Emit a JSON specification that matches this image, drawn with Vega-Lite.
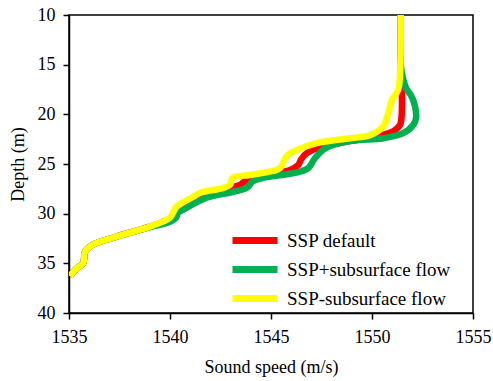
{
  "$schema": "https://vega.github.io/schema/vega-lite/v6.json",
  "width": 404,
  "height": 298,
  "autosize": {"type": "none"},
  "padding": {"left": 69, "top": 15, "right": 20, "bottom": 68},
  "background": "white",
  "config": {
    "font": "Liberation Serif",
    "view": {"stroke": "black", "strokeWidth": 1.5},
    "axis": {
      "domainColor": "black", "domainWidth": 1.5, "tickColor": "black", "tickWidth": 1.5,
      "tickSize": 6, "labelColor": "black", "titleColor": "black",
      "labelFont": "Liberation Serif", "titleFont": "Liberation Serif",
      "labelFontSize": 18, "titleFontSize": 18, "titleFontWeight": "normal", "grid": false,
      "labelFlush": false, "labelOverlap": false
    },
    "legend": {"labelFont": "Liberation Serif"}
  },
  "data": {"values": [
    {"s": "SSP default", "d": 10, "v": 1551.42},
    {"s": "SSP default", "d": 13, "v": 1551.42},
    {"s": "SSP default", "d": 15.5, "v": 1551.43},
    {"s": "SSP default", "d": 16.8, "v": 1551.46},
    {"s": "SSP default", "d": 18, "v": 1551.48},
    {"s": "SSP default", "d": 20, "v": 1551.47},
    {"s": "SSP default", "d": 21.05, "v": 1551.39},
    {"s": "SSP default", "d": 21.7, "v": 1551.05},
    {"s": "SSP default", "d": 22.2, "v": 1550.2},
    {"s": "SSP default", "d": 22.7, "v": 1548.9},
    {"s": "SSP default", "d": 23.2, "v": 1547.6},
    {"s": "SSP default", "d": 23.9, "v": 1546.77},
    {"s": "SSP default", "d": 24.5, "v": 1546.5},
    {"s": "SSP default", "d": 25.1, "v": 1546.35},
    {"s": "SSP default", "d": 25.6, "v": 1545.94},
    {"s": "SSP default", "d": 26.1, "v": 1544.6},
    {"s": "SSP default", "d": 26.6, "v": 1543.8},
    {"s": "SSP default", "d": 27.1, "v": 1543.47},
    {"s": "SSP default", "d": 27.4, "v": 1542.97},
    {"s": "SSP default", "d": 28.1, "v": 1541.65},
    {"s": "SSP default", "d": 29.3, "v": 1540.5},
    {"s": "SSP default", "d": 29.8, "v": 1540.25},
    {"s": "SSP default", "d": 30.4, "v": 1540.05},
    {"s": "SSP default", "d": 31.3, "v": 1539.0},
    {"s": "SSP default", "d": 32.3, "v": 1537.36},
    {"s": "SSP default", "d": 33.1, "v": 1536.2},
    {"s": "SSP default", "d": 33.8, "v": 1535.8},
    {"s": "SSP default", "d": 35.0, "v": 1535.7},
    {"s": "SSP default", "d": 35.5, "v": 1535.38},
    {"s": "SSP default", "d": 36.3, "v": 1535.05},
    {"s": "SSP+subsurface flow", "d": 10, "v": 1551.42},
    {"s": "SSP+subsurface flow", "d": 13, "v": 1551.42},
    {"s": "SSP+subsurface flow", "d": 15.2, "v": 1551.43},
    {"s": "SSP+subsurface flow", "d": 16.5, "v": 1551.55},
    {"s": "SSP+subsurface flow", "d": 17.4, "v": 1551.7},
    {"s": "SSP+subsurface flow", "d": 18.2, "v": 1551.96},
    {"s": "SSP+subsurface flow", "d": 19.2, "v": 1552.13},
    {"s": "SSP+subsurface flow", "d": 20.4, "v": 1552.18},
    {"s": "SSP+subsurface flow", "d": 21.05, "v": 1552.05},
    {"s": "SSP+subsurface flow", "d": 21.9, "v": 1551.55},
    {"s": "SSP+subsurface flow", "d": 22.4, "v": 1550.56},
    {"s": "SSP+subsurface flow", "d": 22.7, "v": 1548.9},
    {"s": "SSP+subsurface flow", "d": 23.4, "v": 1547.7},
    {"s": "SSP+subsurface flow", "d": 24.4, "v": 1547.18},
    {"s": "SSP+subsurface flow", "d": 25.4, "v": 1546.85},
    {"s": "SSP+subsurface flow", "d": 25.8, "v": 1546.4},
    {"s": "SSP+subsurface flow", "d": 26.4, "v": 1544.6},
    {"s": "SSP+subsurface flow", "d": 26.75, "v": 1544.1},
    {"s": "SSP+subsurface flow", "d": 27.4, "v": 1543.8},
    {"s": "SSP+subsurface flow", "d": 27.8, "v": 1543.13},
    {"s": "SSP+subsurface flow", "d": 28.4, "v": 1541.8},
    {"s": "SSP+subsurface flow", "d": 29.6, "v": 1540.66},
    {"s": "SSP+subsurface flow", "d": 29.9, "v": 1540.4},
    {"s": "SSP+subsurface flow", "d": 30.4, "v": 1540.3},
    {"s": "SSP+subsurface flow", "d": 30.9, "v": 1539.9},
    {"s": "SSP+subsurface flow", "d": 31.3, "v": 1539.1},
    {"s": "SSP+subsurface flow", "d": 32.3, "v": 1537.4},
    {"s": "SSP+subsurface flow", "d": 33.1, "v": 1536.2},
    {"s": "SSP+subsurface flow", "d": 33.8, "v": 1535.8},
    {"s": "SSP+subsurface flow", "d": 35.0, "v": 1535.7},
    {"s": "SSP+subsurface flow", "d": 35.5, "v": 1535.38},
    {"s": "SSP+subsurface flow", "d": 36.3, "v": 1535.05},
    {"s": "SSP-subsurface flow", "d": 10, "v": 1551.42},
    {"s": "SSP-subsurface flow", "d": 13, "v": 1551.42},
    {"s": "SSP-subsurface flow", "d": 15.2, "v": 1551.4},
    {"s": "SSP-subsurface flow", "d": 17.5, "v": 1551.3},
    {"s": "SSP-subsurface flow", "d": 18.5, "v": 1551.0},
    {"s": "SSP-subsurface flow", "d": 19.9, "v": 1550.8},
    {"s": "SSP-subsurface flow", "d": 21.2, "v": 1550.56},
    {"s": "SSP-subsurface flow", "d": 22.1, "v": 1549.9},
    {"s": "SSP-subsurface flow", "d": 22.4, "v": 1548.9},
    {"s": "SSP-subsurface flow", "d": 22.9, "v": 1547.26},
    {"s": "SSP-subsurface flow", "d": 23.6, "v": 1546.27},
    {"s": "SSP-subsurface flow", "d": 24.2, "v": 1545.78},
    {"s": "SSP-subsurface flow", "d": 25.4, "v": 1545.45},
    {"s": "SSP-subsurface flow", "d": 25.7, "v": 1545.1},
    {"s": "SSP-subsurface flow", "d": 26.1, "v": 1543.96},
    {"s": "SSP-subsurface flow", "d": 26.4, "v": 1543.1},
    {"s": "SSP-subsurface flow", "d": 27.1, "v": 1542.97},
    {"s": "SSP-subsurface flow", "d": 27.4, "v": 1542.64},
    {"s": "SSP-subsurface flow", "d": 27.9, "v": 1541.5},
    {"s": "SSP-subsurface flow", "d": 28.3, "v": 1541.15},
    {"s": "SSP-subsurface flow", "d": 29.3, "v": 1540.33},
    {"s": "SSP-subsurface flow", "d": 29.8, "v": 1540.17},
    {"s": "SSP-subsurface flow", "d": 30.4, "v": 1540.0},
    {"s": "SSP-subsurface flow", "d": 31.3, "v": 1539.0},
    {"s": "SSP-subsurface flow", "d": 32.3, "v": 1537.36},
    {"s": "SSP-subsurface flow", "d": 33.1, "v": 1536.2},
    {"s": "SSP-subsurface flow", "d": 33.8, "v": 1535.8},
    {"s": "SSP-subsurface flow", "d": 35.0, "v": 1535.7},
    {"s": "SSP-subsurface flow", "d": 35.5, "v": 1535.38},
    {"s": "SSP-subsurface flow", "d": 36.3, "v": 1535.05}
  ]},
  "mark": {"type": "line", "strokeWidth": 6.5, "interpolate": "catmull-rom", "clip": true, "strokeCap": "butt", "strokeJoin": "round"},
  "encoding": {
    "x": {
      "field": "v", "type": "quantitative",
      "scale": {"domain": [1535, 1555], "nice": false, "zero": false},
      "axis": {"title": "Sound speed (m/s)", "values": [1535, 1540, 1545, 1550, 1555], "format": "d", "labelPadding": 9, "titlePadding": 12}
    },
    "y": {
      "field": "d", "type": "quantitative",
      "scale": {"domain": [10, 40], "reverse": true, "nice": false, "zero": false},
      "axis": {"title": "Depth (m)", "values": [10, 15, 20, 25, 30, 35, 40], "labelPadding": 8, "titlePadding": 10}
    },
    "order": {"field": "d", "type": "quantitative"},
    "color": {
      "field": "s", "type": "nominal",
      "scale": {"domain": ["SSP default", "SSP+subsurface flow", "SSP-subsurface flow"], "range": ["#ff0000", "#00b050", "#ffff00"]},
      "legend": {
        "title": null, "orient": "none", "legendX": 159, "legendY": 216,
        "symbolType": "M-1,0H8", "symbolSize": 100, "symbolStrokeWidth": 7,
        "labelFontSize": 19, "labelFont": "Liberation Serif", "labelColor": "black",
        "labelOffset": 40, "rowPadding": 0, "labelLimit": 300
      }
    }
  }
}
